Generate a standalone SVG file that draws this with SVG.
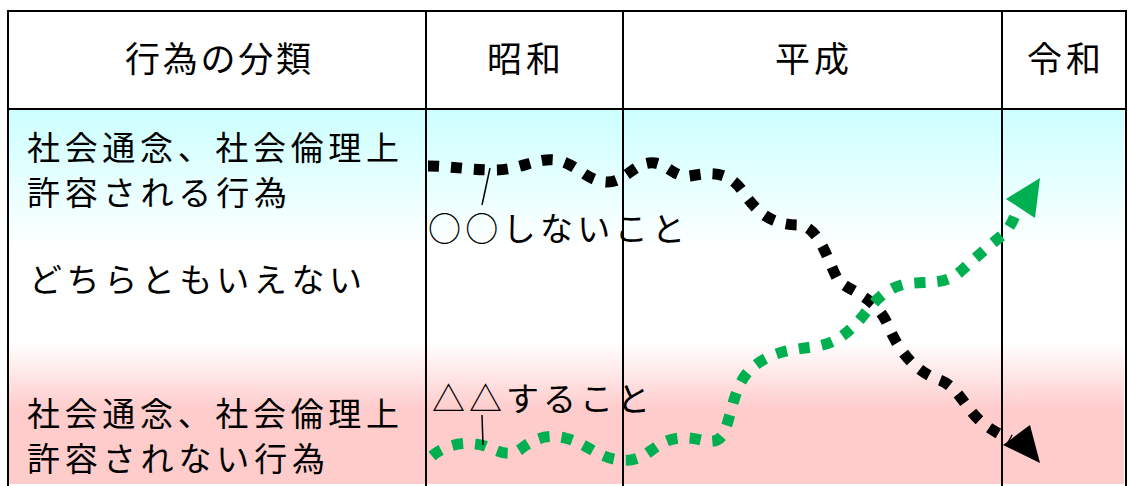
<svg xmlns="http://www.w3.org/2000/svg" width="1129" height="486" viewBox="0 0 1129 486">
<defs>
<linearGradient id="bg" x1="0" y1="110" x2="0" y2="484" gradientUnits="userSpaceOnUse">
<stop offset="0" stop-color="#ccffff"/>
<stop offset="0.37" stop-color="#ffffff"/>
<stop offset="0.62" stop-color="#ffffff"/>
<stop offset="0.8" stop-color="#ffcccc"/>
<stop offset="1" stop-color="#ffcccc"/>
</linearGradient>
<style>
.t{font-family:"Noto Sans CJK JP","Noto Sans",sans-serif;font-size:33px;fill:#000}
.h{font-family:"Noto Sans CJK JP","Noto Sans",sans-serif;font-size:35px;fill:#000;text-anchor:middle}
.grid{stroke:#000;stroke-width:2;fill:none}
.dash{fill:none;stroke-width:11;stroke-dasharray:11 12}
.lead{stroke:#000;stroke-width:1.5}
</style>
</defs>
<rect x="0" y="0" width="1129" height="486" fill="#fff"/>
<rect x="9" y="110" width="1115" height="374" fill="url(#bg)"/>
<g id="grid">
<line class="grid" x1="8" y1="11" x2="1126" y2="11"/>
<line class="grid" x1="8" y1="109" x2="1126" y2="109"/>
<line class="grid" x1="8" y1="10" x2="8" y2="486"/>
<line class="grid" x1="426" y1="10" x2="426" y2="486"/>
<line class="grid" x1="623" y1="10" x2="623" y2="486"/>
<line class="grid" x1="1002" y1="10" x2="1002" y2="486"/>
<line class="grid" x1="1126" y1="10" x2="1126" y2="486"/>
</g>
<g id="header">
<text class="h" x="218" y="72" textLength="186">行為の分類</text>
<text class="h" x="524" y="72" textLength="74">昭和</text>
<text class="h" x="812" y="72" textLength="74">平成</text>
<text class="h" x="1064" y="72" textLength="74">令和</text>
</g>
<g id="row-allowed">
<text class="t" x="27" y="160" textLength="372">社会通念、社会倫理上</text>
<text class="t" x="27" y="205" textLength="260">許容される行為</text>
</g>
<g id="row-neutral">
<text class="t" x="29" y="292" textLength="333">どちらともいえない</text>
</g>
<g id="row-notallowed">
<text class="t" x="27" y="426" textLength="372">社会通念、社会倫理上</text>
<text class="t" x="27" y="471" textLength="298">許容されない行為</text>
</g>
<g id="connectors">
<path class="dash" stroke="#000" d="M428,166 C450,166 470,170 495,170 C520,170 535,158 555,160 C575,162 585,180 605,182 C625,184 635,160 655,163 C670,166 675,178 690,176 C710,172 730,170 745,195 C758,212 770,225 800,225 C820,228 828,262 838,280 C850,292 875,296 888,325 C898,350 915,372 940,380 C960,388 965,410 985,425 C995,432 1003,436 1010,440"/>
<polygon fill="#000" points="1040,463 1003,445 1030,425"/>
<path class="dash" stroke="#00b050" d="M432,456 C445,445 465,440 485,446 C500,452 510,458 522,448 C535,438 548,434 565,438 C590,444 600,462 630,460 C650,458 655,440 680,438 C700,436 712,448 722,436 C732,420 732,385 752,368 C770,352 790,350 812,347 C835,344 845,335 858,322 C870,308 880,290 905,284 C930,281 945,285 960,272 C975,258 990,245 1005,233 C1012,224 1015,216 1017,210"/>
<polygon fill="#00b050" points="1040,178 1006,199 1035,218"/>
</g>
<g id="label-not">
<line class="lead" x1="490" y1="168" x2="482" y2="205"/>
<text class="t" x="428" y="241" textLength="257">○○しないこと</text>
</g>
<g id="label-do">
<line class="lead" x1="482" y1="415" x2="483" y2="445"/>
<text class="t" x="432" y="411" textLength="218">△△すること</text>
</g>
</svg>
